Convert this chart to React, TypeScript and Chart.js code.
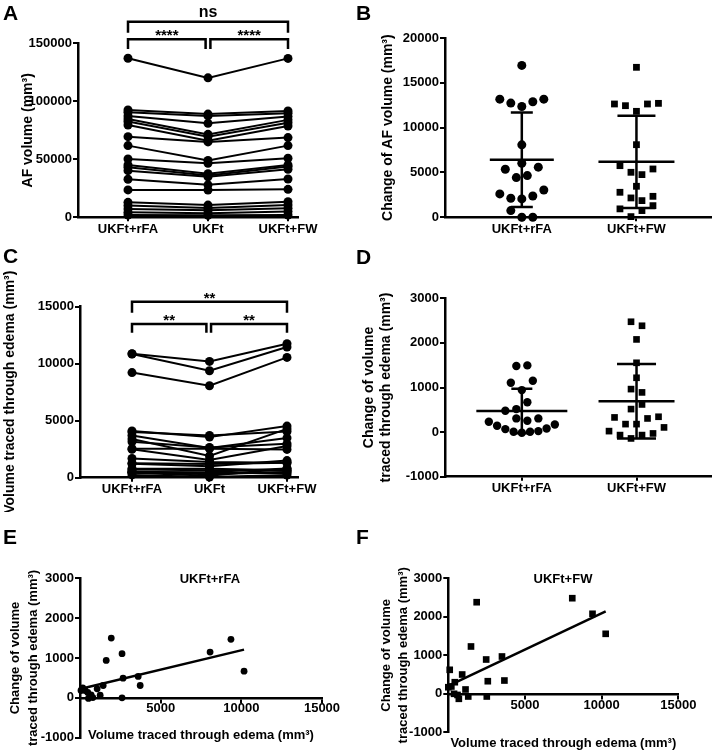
import React, { useEffect, useRef } from 'react';
import { Chart, registerables } from 'chart.js';

Chart.register(...registerables);

const FONT = "'Liberation Sans', Arial, Helvetica, sans-serif";
const INK = '#000000';

// ---------------- data ----------------
const threeGroups = ['UKFt+rFA', 'UKFt', 'UKFt+FW'];
const twoGroups = ['UKFt+rFA', 'UKFt+FW'];

// Panel A: AF volume (mm3), one entry per subject
const afVolumeRFA = [137100, 92500, 90500, 87400, 84800, 82500, 79600, 69500, 61800, 50300, 45100, 43100, 40200, 32800, 23600, 12900, 10100, 7200, 4300, 2000];
const afVolumeUKFt = [120200, 89000, 87400, 81000, 71500, 69500, 66000, 65000, 49000, 46500, 37500, 36000, 35000, 28000, 23500, 10500, 8000, 6000, 3500, 1800];
const afVolumeFW = [137000, 91700, 89700, 86800, 84000, 81600, 78700, 68700, 61800, 50900, 45100, 43700, 41400, 33000, 24100, 13500, 10600, 7800, 4900, 2000];
const afVolumeTicks = [0, 50000, 100000, 150000];

// Panel B: change of AF volume (mm3)
const afChangeRFA = [16940, 13180, 12740, 12360, 12890, 13180, 8080, 6030, 5360, 4430, 4650, 5590, 2610, 2120, 2050, 2380, 3050, 745, 0, 0];
const afChangeFW = [16730, 12640, 12450, 11820, 12640, 12710, 8100, 5760, 5020, 4760, 5390, 3460, 2790, 2160, 1860, 2340, 940, 75, 750, 1300];
const afChangeTicks = [0, 5000, 10000, 15000, 20000];

// Panel C: volume traced through edema (mm3)
const edemaVolumeRFA = [10870, 10850, 9220, 4010, 4100, 3144, 3708, 2550, 3400, 2500, 1690, 1265, 1227, 787, 726, 485, 554, 485, 432, 245];
const edemaVolumeUKFt = [10200, 9380, 8070, 3700, 3560, 2650, 2600, 2550, 1900, 1560, 1380, 1200, 1000, 780, 650, 500, 420, 300, 180, 60];
const edemaVolumeFW = [11758, 11458, 10553, 4045, 4529, 2977, 3491, 2480, 4279, 2789, 1310, 1312, 1501, 650, 620, 801, 420, 490, 803, 231];
const edemaVolumeTicks = [0, 5000, 10000, 15000];

// Panel D: change of volume traced through edema (mm3)
const edemaChangeRFA = [1481, 1496, 1107, 942, 1152, 516, 668, 479, 307, 254, 307, 232, 142, 67, 7, -15, 7, 22, 82, 172];
const edemaChangeFW = [2474, 2384, 2078, 1554, 1218, 964, 890, 516, 620, 329, 179, 179, 306, 344, 22, -67, -142, -67, -30, 105];
const edemaChangeTicks = [-1000, 0, 1000, 2000, 3000];

// Panel E: UKFt+rFA correlation
const corrRFAVolume = [1938, 1625, 2606, 8063, 9356, 10169, 3606, 3731, 2669, 2606, 1438, 1063, 1250, 169, 313, 63, 481, 688, 525, 794];
const corrRFAChange = [1501, 940, 1108, 1149, 1468, 670, 537, 310, 494, 0, 310, 227, 65, 252, 185, 185, 134, 76, -15, 7];

// Panel F: UKFt+FW correlation
const corrFWVolume = [8085, 9405, 10264, 1850, 1480, 2470, 3501, 2576, 3659, 2510, 1123, 1301, 905, 92, 423, 0, 198, 376, 687, 600];
const corrFWChange = [2483, 2078, 1558, 2379, 1229, 891, 969, 327, 345, -70, 112, -70, 501, 623, 301, 171, 190, 0, -130, -30];

const corrXTicks = [5000, 10000, 15000];
const corrXRange = [0, 15000];
const corrYTicks = [-1000, 0, 1000, 2000, 3000];

// ---------------- helpers ----------------
const tickFont = { family: FONT, size: 13, weight: 'bold' as const };

function gridStyle(len = 5) {
  return { display: true, drawOnChartArea: false, drawTicks: true, tickLength: len, color: INK, lineWidth: 2 };
}
const borderStyle = { display: true, color: INK, width: 2.5 };

function catX(labels: string[], min: number, max: number, height: number) {
  return {
    type: 'linear',
    min,
    max,
    afterBuildTicks: (s: any) => {
      s.ticks = labels.map((_, i) => ({ value: i }));
    },
    afterFit: (s: any) => {
      s.height = height;
    },
    ticks: {
      callback: (v: any) => labels[v] ?? '',
      color: INK,
      font: tickFont,
      padding: 0,
      maxRotation: 0,
      autoSkip: false,
    },
    grid: gridStyle(4),
    border: borderStyle,
  };
}

function valY(
  tickVals: number[],
  title: string | string[],
  width: number,
  titlePad: number,
  titleSize: number,
  lineHeight: number
) {
  return {
    type: 'linear',
    min: tickVals[0],
    max: tickVals[tickVals.length - 1],
    afterBuildTicks: (s: any) => {
      s.ticks = tickVals.map((v) => ({ value: v }));
    },
    afterFit: (s: any) => {
      s.width = width;
    },
    ticks: { callback: (v: any) => String(v), color: INK, font: tickFont, padding: 1 },
    grid: gridStyle(5),
    border: borderStyle,
    title: {
      display: true,
      text: title,
      color: INK,
      font: { family: FONT, size: titleSize, weight: 'bold', lineHeight },
      padding: { top: titlePad, bottom: 0 },
    },
  };
}

const bracketPlugin = {
  id: 'sigBrackets',
  afterDraw(chart: any, _a: any, opts: any) {
    const { ctx } = chart;
    const xs = chart.scales.x;
    const ys = chart.scales.y;
    ctx.save();
    ctx.strokeStyle = INK;
    ctx.fillStyle = INK;
    ctx.lineWidth = 2.5;
    ctx.lineJoin = 'miter';
    ctx.textAlign = 'center';
    ctx.textBaseline = 'alphabetic';
    for (const b of opts.items || []) {
      const x1 = xs.getPixelForValue(b.from);
      const x2 = xs.getPixelForValue(b.to);
      const yl = ys.getPixelForValue(b.level);
      const yg = ys.getPixelForValue(b.leg);
      ctx.beginPath();
      ctx.moveTo(x1, yg);
      ctx.lineTo(x1, yl);
      ctx.lineTo(x2, yl);
      ctx.lineTo(x2, yg);
      ctx.stroke();
      ctx.font = `bold ${b.size}px ${FONT}`;
      ctx.fillText(b.label, (x1 + x2) / 2, yl - b.gap);
    }
    ctx.restore();
  },
};

const meanSdPlugin = {
  id: 'meanSd',
  afterDatasetsDraw(chart: any, _a: any, opts: any) {
    const { ctx } = chart;
    const xs = chart.scales.x;
    const ys = chart.scales.y;
    ctx.save();
    ctx.strokeStyle = INK;
    ctx.lineWidth = 2.5;
    for (const g of opts.groups || []) {
      const vals: number[] = g.values;
      const n = vals.length;
      const mean = vals.reduce((a, b) => a + b, 0) / n;
      const sd = Math.sqrt(vals.reduce((a, b) => a + (b - mean) * (b - mean), 0) / (n - 1));
      const cx = xs.getPixelForValue(g.x);
      const ym = ys.getPixelForValue(mean);
      const yt = ys.getPixelForValue(mean + sd);
      const yb = ys.getPixelForValue(mean - sd);
      ctx.beginPath();
      ctx.moveTo(cx - g.meanHalf, ym);
      ctx.lineTo(cx + g.meanHalf, ym);
      ctx.moveTo(cx, yt);
      ctx.lineTo(cx, yb);
      ctx.moveTo(cx - g.capHalf, yt);
      ctx.lineTo(cx + g.capHalf, yt);
      ctx.moveTo(cx - g.capHalf, yb);
      ctx.lineTo(cx + g.capHalf, yb);
      ctx.stroke();
    }
    ctx.restore();
  },
};

const textPlugin = {
  id: 'freeText',
  afterDraw(chart: any, _a: any, opts: any) {
    const { ctx, chartArea } = chart;
    const xs = chart.scales.x;
    const ys = chart.scales.y;
    ctx.save();
    ctx.fillStyle = INK;
    ctx.textAlign = 'center';
    ctx.textBaseline = 'middle';
    for (const t of opts.items || []) {
      ctx.font = `bold ${t.size}px ${FONT}`;
      const px = t.xValue !== undefined ? xs.getPixelForValue(t.xValue) : (chartArea.left + chartArea.right) / 2;
      const py = t.yValue !== undefined ? ys.getPixelForValue(t.yValue) : chartArea.bottom + t.dy;
      ctx.fillText(t.text, px, py);
    }
    ctx.restore();
  },
};

// bin points into rows and spread each row symmetrically (column scatter)
function swarmOffsets(values: number[], pxPerValue: number, pxPerUnitX: number) {
  const binPx = 11.3;
  const stepPx = 11;
  const maxHalfPx = 33;
  const binVal = binPx / pxPerValue;
  const order = values.map((_, i) => i).sort((a, b) => values[a] - values[b] || a - b);
  const offsets = new Array(values.length).fill(0);
  let i = 0;
  while (i < order.length) {
    const start = values[order[i]];
    const bin: number[] = [];
    while (i < order.length && values[order[i]] - start < binVal) {
      bin.push(order[i]);
      i++;
    }
    bin.sort((a, b) => a - b);
    const n = bin.length;
    const step = n > 1 ? Math.min(stepPx, (2 * maxHalfPx) / (n - 1)) : 0;
    bin.forEach((idx, k) => {
      offsets[idx] = ((k - (n - 1) / 2) * step) / pxPerUnitX;
    });
  }
  return offsets;
}

function regression(xs: number[], ys: number[]) {
  const n = xs.length;
  const mx = xs.reduce((a, b) => a + b, 0) / n;
  const my = ys.reduce((a, b) => a + b, 0) / n;
  let sxy = 0;
  let sxx = 0;
  for (let i = 0; i < n; i++) {
    sxy += (xs[i] - mx) * (ys[i] - my);
    sxx += (xs[i] - mx) * (xs[i] - mx);
  }
  const slope = sxy / sxx;
  const icpt = my - slope * mx;
  const x0 = Math.min(...xs);
  const x1 = Math.max(...xs);
  return [
    { x: x0, y: icpt + slope * x0 },
    { x: x1, y: icpt + slope * x1 },
  ];
}

const baseOptions = {
  animation: false,
  responsive: false,
  events: [],
};

// ---------------- panel builders ----------------
function pairedConfig(
  a: number[],
  b: number[],
  c: number[],
  ticks: number[],
  title: string,
  layout: any,
  xr: [number, number, number],
  yw: number,
  tpad: number,
  brackets: any[]
) {
  const datasets = a.map((_, i) => ({
    type: 'line',
    data: [
      { x: 0, y: a[i] },
      { x: 1, y: b[i] },
      { x: 2, y: c[i] },
    ],
    borderColor: INK,
    borderWidth: 2,
    pointRadius: 4.5,
    pointHoverRadius: 4.5,
    pointBackgroundColor: INK,
    pointBorderWidth: 0,
    tension: 0,
    clip: false,
  }));
  return {
    type: 'line',
    data: { datasets },
    options: {
      ...baseOptions,
      layout: { padding: layout },
      plugins: { legend: { display: false }, tooltip: { enabled: false }, sigBrackets: { items: brackets } },
      scales: {
        x: catX(threeGroups, xr[0], xr[1], xr[2]),
        y: valY(ticks, title, yw, tpad, 14, 1.2),
      },
    },
    plugins: [bracketPlugin],
  };
}

function columnConfig(
  left: number[],
  right: number[],
  ticks: number[],
  title: string | string[],
  layout: any,
  xr: [number, number, number],
  yw: number,
  tpad: number,
  circleR: number,
  squareR: number,
  groups: any[]
) {
  return {
    type: 'scatter',
    data: {
      datasets: [
        {
          data: left.map((v) => ({ x: 0, y: v })),
          pointStyle: 'circle',
          pointRadius: circleR,
          pointHoverRadius: circleR,
          backgroundColor: INK,
          borderWidth: 0,
          clip: false,
        },
        {
          data: right.map((v) => ({ x: 1, y: v })),
          pointStyle: 'rect',
          pointRadius: squareR,
          pointHoverRadius: squareR,
          backgroundColor: INK,
          borderWidth: 0,
          clip: false,
        },
      ],
    },
    options: {
      ...baseOptions,
      layout: { padding: layout },
      plugins: { legend: { display: false }, tooltip: { enabled: false }, meanSd: { groups } },
      scales: {
        x: catX(twoGroups, xr[0], xr[1], xr[2]),
        y: valY(ticks, title, yw, tpad, 14, 1.2),
      },
    },
    plugins: [meanSdPlugin],
  };
}

function applySwarm(chart: any, cols: number[][], tickStep: number) {
  const xs = chart.scales.x;
  const ys = chart.scales.y;
  const pxX = xs.getPixelForValue(1) - xs.getPixelForValue(0);
  const pxV = (ys.getPixelForValue(0) - ys.getPixelForValue(tickStep)) / tickStep;
  cols.forEach((vals, g) => {
    const off = swarmOffsets(vals, pxV, pxX);
    chart.data.datasets[g].data = vals.map((v, i) => ({ x: g + off[i], y: v }));
  });
}

function corrConfig(
  xsData: number[],
  ysData: number[],
  pointStyle: string,
  radius: number,
  label: string,
  labelAt: [number, number],
  layout: any,
  yw: number,
  tpad: number,
  lh: number,
  titleDy: number,
  xTickPad: number
) {
  return {
    type: 'scatter',
    data: {
      datasets: [
        {
          data: xsData.map((x, i) => ({ x, y: ysData[i] })),
          pointStyle,
          pointRadius: radius,
          pointHoverRadius: radius,
          backgroundColor: INK,
          borderWidth: 0,
          clip: false,
        },
        {
          type: 'line',
          data: regression(xsData, ysData),
          showLine: true,
          borderColor: INK,
          borderWidth: 2.5,
          pointRadius: 0,
          clip: false,
        },
      ],
    },
    options: {
      ...baseOptions,
      layout: { padding: layout },
      plugins: {
        legend: { display: false },
        tooltip: { enabled: false },
        freeText: {
          items: [
            { text: label, xValue: labelAt[0], yValue: labelAt[1], size: 13 },
            { text: 'Volume traced through edema (mm³)', dy: titleDy, size: 13 },
          ],
        },
      },
      scales: {
        x: {
          type: 'linear',
          min: corrXRange[0],
          max: corrXRange[1],
          position: { y: 0 },
          afterBuildTicks: (s: any) => {
            s.ticks = corrXTicks.map((v) => ({ value: v }));
          },
          ticks: { callback: (v: any) => String(v), color: INK, font: tickFont, padding: xTickPad, maxRotation: 0, autoSkip: false },
          grid: gridStyle(4),
          border: borderStyle,
        },
        y: valY(corrYTicks, ['Change of volume', 'traced through edema (mm³)'], yw, tpad, 13, lh),
      },
    },
    plugins: [textPlugin],
  };
}

// ---------------- components ----------------
function Panel(props: { left: number; top: number; width: number; height: number; build: () => any; after?: (c: any) => void }) {
  const ref = useRef<HTMLCanvasElement>(null);
  useEffect(() => {
    const canvas = ref.current;
    if (!canvas) return;
    const chart = new Chart(canvas, props.build());
    if (props.after) {
      props.after(chart);
      chart.update('none');
    }
    return () => chart.destroy();
  }, []);
  return (
    <canvas
      ref={ref}
      width={props.width}
      height={props.height}
      style={{ position: 'absolute', left: props.left, top: props.top, width: props.width, height: props.height }}
    />
  );
}

function Letter(props: { ch: string; left: number; top: number }) {
  return (
    <div
      style={{
        position: 'absolute',
        left: props.left,
        top: props.top,
        font: `bold 21px ${FONT}`,
        lineHeight: '21px',
        color: INK,
      }}
    >
      {props.ch}
    </div>
  );
}

export default function App() {
  return (
    <div style={{ position: 'absolute', left: 0, top: 0, width: 716, height: 752, background: '#fff', overflow: 'hidden' }}>
      <Panel
        left={0}
        top={0}
        width={340}
        height={252}
        build={() =>
          pairedConfig(
            afVolumeRFA,
            afVolumeUKFt,
            afVolumeFW,
            afVolumeTicks,
            'AF volume (mm³)',
            { left: 0, top: 43.3, right: 42, bottom: 0 },
            [-0.625, 2.125, 34.7],
            78,
            19.6,
            [
              { from: 0, to: 2, level: 168600, leg: 159100, label: 'ns', size: 16, gap: 4.4 },
              { from: 0, to: 0.97, level: 153450, leg: 145100, label: '****', size: 15, gap: -1 },
              { from: 1.03, to: 2, level: 153450, leg: 145100, label: '****', size: 15, gap: -1 },
            ]
          )
        }
      />
      <Panel
        left={360}
        top={0}
        width={356}
        height={252}
        build={() =>
          columnConfig(
            afChangeRFA,
            afChangeFW,
            afChangeTicks,
            'Change of AF volume (mm³)',
            { left: 0, top: 38, right: 4, bottom: 0 },
            [-0.67, 1.652, 34.7],
            85,
            19.6,
            4.5,
            4.8,
            [
              { values: afChangeRFA, x: 0, meanHalf: 32, capHalf: 11 },
              { values: afChangeFW, x: 1, meanHalf: 38, capHalf: 19 },
            ]
          )
        }
        after={(c) => applySwarm(c, [afChangeRFA, afChangeFW], afChangeTicks[1])}
      />
      <Panel
        left={0}
        top={250}
        width={340}
        height={262}
        build={() =>
          pairedConfig(
            edemaVolumeRFA,
            edemaVolumeUKFt,
            edemaVolumeFW,
            edemaVolumeTicks,
            'Volume traced through edema (mm³)',
            { left: 0, top: 56.7, right: 42, bottom: 0 },
            [-0.671, 2.142, 34.3],
            80,
            2,
            [
              { from: 0, to: 2, level: 15440, leg: 14474, label: '**', size: 15, gap: -1 },
              { from: 0, to: 0.96, level: 13482, leg: 12720, label: '**', size: 15, gap: -0.5 },
              { from: 1.02, to: 2, level: 13482, leg: 12720, label: '**', size: 15, gap: -0.5 },
            ]
          )
        }
      />
      <Panel
        left={360}
        top={250}
        width={356}
        height={262}
        build={() =>
          columnConfig(
            edemaChangeRFA,
            edemaChangeFW,
            edemaChangeTicks,
            ['Change of volume', 'traced through edema (mm³)'],
            { left: 0, top: 48.3, right: 4, bottom: 0 },
            [-0.67, 1.652, 35.3],
            85,
            0.6,
            4.2,
            4.7,
            [
              { values: edemaChangeRFA, x: 0, meanHalf: 45.5, capHalf: 10.5 },
              { values: edemaChangeFW, x: 1, meanHalf: 38, capHalf: 19.5 },
            ]
          )
        }
        after={(c) => applySwarm(c, [edemaChangeRFA, edemaChangeFW], 1000)}
      />
      <Panel
        left={0}
        top={500}
        width={345}
        height={252}
        build={() =>
          corrConfig(
            corrRFAVolume,
            corrRFAChange,
            'circle',
            3.4,
            'UKFt+rFA',
            [8050, 2980],
            { left: 0, top: 78.3, right: 23, bottom: 14.3 },
            80,
            6,
            1.385,
            -2,
            -1.5
          )
        }
      />
      <Panel
        left={360}
        top={500}
        width={356}
        height={252}
        build={() =>
          corrConfig(
            corrFWVolume,
            corrFWChange,
            'rect',
            4.7,
            'UKFt+FW',
            [7480, 2980],
            { left: 0, top: 78.3, right: 37.7, bottom: 19.7 },
            88.3,
            18.6,
            1.25,
            10.7,
            0
          )
        }
      />
      <Letter ch="A" left={3} top={2} />
      <Letter ch="B" left={356} top={2} />
      <Letter ch="C" left={3} top={245} />
      <Letter ch="D" left={356} top={246} />
      <Letter ch="E" left={3} top={526} />
      <Letter ch="F" left={356} top={526} />
    </div>
  );
}
